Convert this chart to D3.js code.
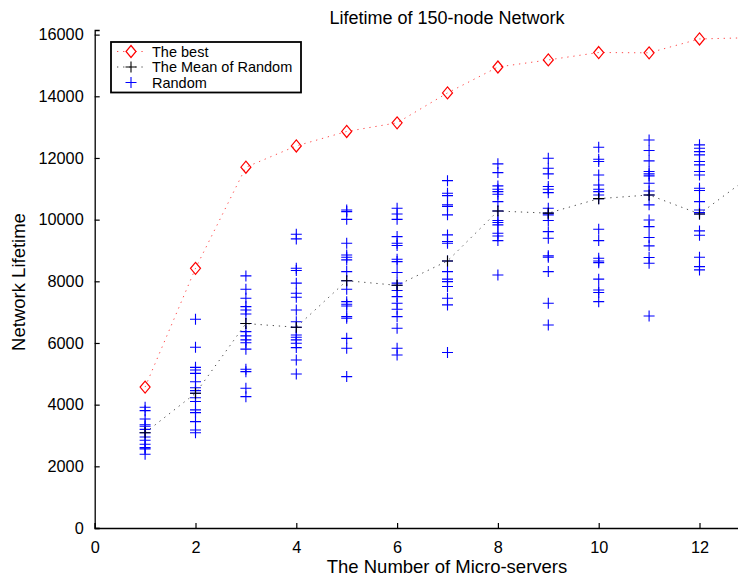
<!DOCTYPE html>
<html>
<head>
<meta charset="utf-8">
<script src="https://cdn.jsdelivr.net/npm/d3@7"></script>
<style>
  html, body { margin: 0; padding: 0; background: #fff; }
  svg { display: block; font-family: "Liberation Sans", Arial, Helvetica, sans-serif; }
</style>
</head>
<body>
<svg id="chart" width="738" height="578"></svg>
<script>
// Number of micro-servers deployed
const servers = [1, 2, 3, 4, 5, 6, 7, 8, 9, 10, 11, 12, 13];

// Lifetime of the best placement for each server count
const bestLifetime = [4570, 8420, 11700, 12390, 12860, 13140, 14110, 14950, 15180, 15420, 15410, 15860, 15900];

// Mean lifetime over the random placements
const meanLifetime = [3090, 4370, 6630, 6510, 8020, 7870, 8660, 10280, 10210, 10680, 10800, 10185, 11400];

// Lifetime of each random placement, one list per server count (1..12)
const randomLifetime = [
  [3915, 3805, 3535, 3350, 3300, 3200, 3090, 2950, 2845, 2715, 2605, 2565, 2390],
  [6770, 5860, 5210, 5125, 5015, 4745, 4550, 4455, 4370, 4225, 4100, 3830, 3740, 3450, 3180, 3090],
  [8175, 7745, 7450, 7180, 7070, 6940, 6630, 6370, 6230, 6100, 6010, 5800, 5150, 5070, 4530, 4260],
  [9525, 9375, 8425, 8350, 7940, 7615, 7485, 7070, 6690, 6510, 6260, 6185, 6100, 5990, 5850, 5450, 4995],
  [10315, 10260, 10010, 9235, 8855, 8780, 8695, 8315, 8020, 7745, 7340, 7255, 7200, 6855, 6800, 6150, 5830, 4910],
  [10370, 10185, 10010, 9450, 9235, 9160, 8715, 8640, 8285, 7940, 7870, 7700, 7505, 7290, 7095, 6855, 6480, 5830, 5610],
  [11265, 10855, 10780, 10480, 10425, 10155, 9505, 9290, 9235, 8660, 8315, 8070, 7990, 7830, 7450, 7235, 5690],
  [11810, 11525, 11095, 10985, 10910, 10825, 10585, 10280, 9970, 9905, 9830, 9560, 9470, 9320, 8205],
  [11990, 11665, 11485, 11075, 10985, 10875, 10370, 10210, 10155, 9970, 9610, 9395, 8825, 8780, 8315, 7290, 6585],
  [12350, 11960, 11885, 11450, 11125, 10985, 10910, 10800, 10680, 9690, 9320, 8750, 8660, 8605, 8070, 7720, 7635, 7340],
  [12585, 12240, 11905, 11560, 11485, 11420, 11180, 10930, 10800, 10480, 9990, 9775, 9420, 9150, 8770, 8585, 6875],
  [12425, 12315, 12205, 12100, 11885, 11775, 11560, 11450, 11020, 10945, 10585, 10315, 10230, 10185, 9635, 9495, 8780, 8475, 8370]
];

const xTicks = [0, 2, 4, 6, 8, 10, 12];
const yTicks = [0, 2000, 4000, 6000, 8000, 10000, 12000, 14000, 16000];

const titleText = "Lifetime of 150-node Network";
const xLabelText = "The Number of Micro-servers";
const yLabelText = "Network Lifetime";
const legendLabels = ["The best", "The Mean of Random", "Random"];

const svg = d3.select("#chart");

const x = d3.scaleLinear().domain([0, 13]).range([94.7, 94.7 + 13 * 50.4]);
const y = d3.scaleLinear().domain([0, 16150]).range([528, 30]);

const RED = "#ff0000", BLUE = "#0000ff", BLACK = "#000000";

// Axes: ticks point into the plot area
const xAxis = d3.axisBottom(x).tickValues(xTicks).tickSize(-5).tickPadding(13).tickFormat(d3.format("d"));
const yAxis = d3.axisLeft(y).tickValues(yTicks).tickSize(-5).tickPadding(11).tickFormat(d3.format("d"));

const gx = svg.append("g").attr("transform", `translate(0,${y(0)})`).call(xAxis);
const gy = svg.append("g").attr("transform", `translate(${x(0)},0)`).call(yAxis);

[gx, gy].forEach(g => {
  g.select(".domain").attr("stroke", BLACK).attr("stroke-width", 1.3);
  g.selectAll(".tick line").attr("stroke", BLACK).attr("stroke-width", 1.2);
  g.selectAll(".tick text").attr("fill", BLACK).style("font-size", "16.3px")
    .style("font-family", "'Liberation Sans', Arial, sans-serif");
});

// Dotted connecting lines
const line = d3.line().x((d, i) => x(servers[i])).y(d => y(d));

svg.append("path").datum(bestLifetime)
  .attr("d", line).attr("fill", "none")
  .attr("stroke", RED).attr("stroke-opacity", 0.7).attr("stroke-width", 1)
  .attr("stroke-dasharray", "1.3,4.8");

svg.append("path").datum(meanLifetime)
  .attr("d", line).attr("fill", "none")
  .attr("stroke", BLACK).attr("stroke-opacity", 0.7).attr("stroke-width", 1)
  .attr("stroke-dasharray", "1.3,4.8");

// Marker shapes
const plusPath = (cx, cy, r) => `M${cx - r},${cy}H${cx + r}M${cx},${cy - r}V${cy + r}`;
const diamondPath = (cx, cy, w, h) => `M${cx},${cy - h}L${cx + w},${cy}L${cx},${cy + h}L${cx - w},${cy}Z`;

// Random placements
const randomPoints = randomLifetime.flatMap((vals, i) => vals.map(v => ({ n: servers[i], v })));
svg.append("g").selectAll("path").data(randomPoints).join("path")
  .attr("d", d => plusPath(x(d.n), y(d.v), 5.5))
  .attr("stroke", BLUE).attr("stroke-width", 1.1).attr("fill", "none");

// Mean markers
svg.append("g").selectAll("path").data(meanLifetime).join("path")
  .attr("d", (d, i) => plusPath(x(servers[i]), y(d), 5.5))
  .attr("stroke", BLACK).attr("stroke-width", 1.1).attr("fill", "none");

// Best markers
svg.append("g").selectAll("path").data(bestLifetime).join("path")
  .attr("d", (d, i) => diamondPath(x(servers[i]), y(d), 5, 6))
  .attr("stroke", RED).attr("stroke-width", 1.2).attr("fill", "none");

// Title and axis labels
svg.append("text").attr("x", 447).attr("y", 24).attr("text-anchor", "middle")
  .style("font-size", "18px").text(titleText);

svg.append("text").attr("x", 447).attr("y", 573).attr("text-anchor", "middle")
  .style("font-size", "18.5px").text(xLabelText);

svg.append("text").attr("transform", "translate(25,282) rotate(-90)").attr("text-anchor", "middle")
  .style("font-size", "18.5px").text(yLabelText);

// Legend
const legend = svg.append("g");
legend.append("rect").attr("x", 111).attr("y", 42).attr("width", 190).attr("height", 50.5)
  .attr("fill", "#fff").attr("stroke", BLACK).attr("stroke-width", 1.8);

const rowY = [51.5, 67, 82.5];
const mx = 131;
const legendStyle = [
  { color: RED, line: true, marker: "diamond" },
  { color: BLACK, line: true, marker: "plus" },
  { color: BLUE, line: false, marker: "plus" }
];

legendLabels.forEach((label, i) => {
  const s = legendStyle[i];
  const ry = rowY[i];
  if (s.line) {
    legend.append("line").attr("x1", 117).attr("x2", 147).attr("y1", ry).attr("y2", ry)
      .attr("stroke", s.color).attr("stroke-opacity", 0.7).attr("stroke-width", 1)
      .attr("stroke-dasharray", "1.3,4.8");
  }
  legend.append("path")
    .attr("d", s.marker === "diamond" ? diamondPath(mx, ry, 5, 6) : plusPath(mx, ry, 5.5))
    .attr("stroke", s.color).attr("stroke-width", s.marker === "diamond" ? 1.2 : 1.1).attr("fill", s.marker === "diamond" ? "#fff" : "none");
  legend.append("text").attr("x", 152).attr("y", ry + 5.3)
    .style("font-size", "14.5px").text(label);
});
</script>
</body>
</html>
